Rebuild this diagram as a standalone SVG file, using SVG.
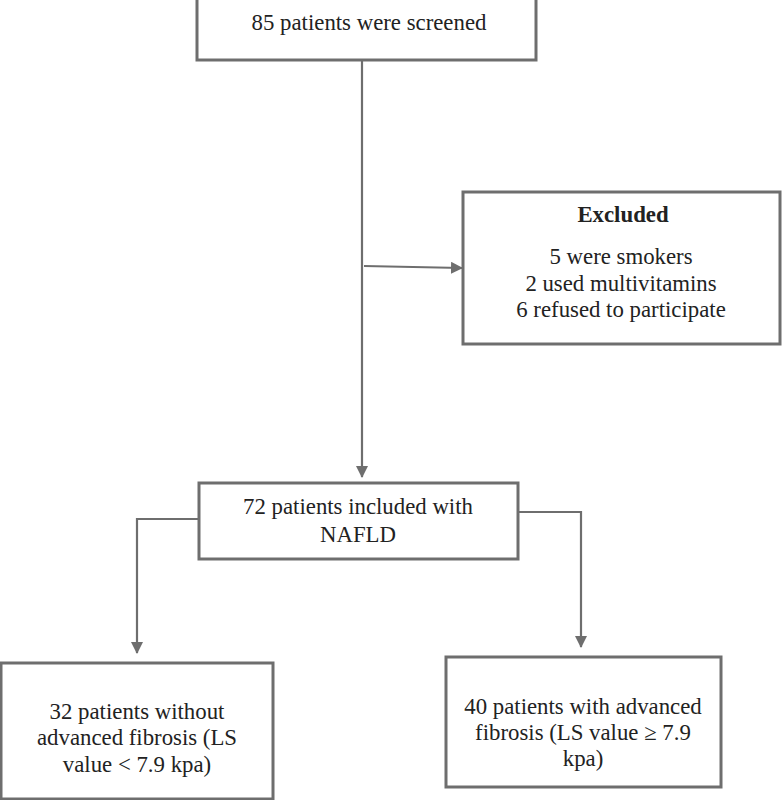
<svg xmlns="http://www.w3.org/2000/svg" width="783" height="800" viewBox="0 0 783 800">
<style>
.box{fill:#fff;stroke:#6e6e6e;stroke-width:3}
.t{font-family:"Liberation Serif","Times New Roman",serif;font-size:22.8px;fill:#222;text-anchor:middle}
.b{font-weight:bold}
.c{fill:none;stroke:#6e6e6e;stroke-width:2.2}
</style>
<defs>
<marker id="ah" markerWidth="12" markerHeight="12" refX="11" refY="6" orient="auto" markerUnits="userSpaceOnUse">
<path d="M0,0 L12,6 L0,12 Z" fill="#6e6e6e"/>
</marker>
</defs>
<rect width="783" height="800" fill="#fff"/>
<g id="connectors">
<path class="c" d="M362,60 V477" marker-end="url(#ah)"/>
<path class="c" d="M364,266 L462,268" marker-end="url(#ah)"/>
<path class="c" d="M199,519 H137 V653" marker-end="url(#ah)"/>
<path class="c" d="M518,512 H581 V647" marker-end="url(#ah)"/>
</g>
<g id="screened">
<rect class="box" x="197" y="-2" width="339" height="62"/>
<text class="t" x="369" y="30">85 patients were screened</text>
</g>
<g id="excluded">
<rect class="box" x="463" y="192" width="317" height="152"/>
<text class="t b" x="623" y="222">Excluded</text>
<text class="t" x="621" y="264">5 were smokers</text>
<text class="t" x="621" y="291">2 used multivitamins</text>
<text class="t" x="621" y="317">6 refused to participate</text>
</g>
<g id="included">
<rect class="box" x="199" y="483" width="319" height="76"/>
<text class="t" x="358" y="514">72 patients included with</text>
<text class="t" x="358" y="542">NAFLD</text>
</g>
<g id="without">
<rect class="box" x="1" y="663" width="272" height="136"/>
<text class="t" x="137" y="719">32 patients without</text>
<text class="t" x="137" y="745">advanced fibrosis (LS</text>
<text class="t" x="137" y="772">value &lt; 7.9 kpa)</text>
</g>
<g id="with">
<rect class="box" x="446" y="657" width="275" height="130"/>
<text class="t" x="583" y="714">40 patients with advanced</text>
<text class="t" x="583" y="740">fibrosis (LS value ≥ 7.9</text>
<text class="t" x="583" y="766">kpa)</text>
</g>
</svg>
